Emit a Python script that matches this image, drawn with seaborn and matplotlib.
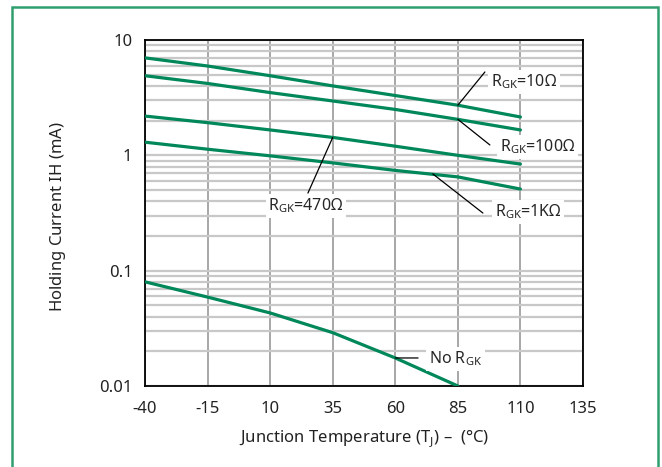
import numpy as np
import pandas as pd
import seaborn as sns
import matplotlib.pyplot as plt
from matplotlib.patches import Rectangle
from matplotlib.ticker import FixedLocator, LogLocator, NullFormatter

# values (temperature in degC, holding current in mA)
temp = [-40, -15, 10, 35, 60, 85, 110]
rgk_10 = [7.0, 5.95, 4.9, 4.0, 3.3, 2.72, 2.15]
rgk_100 = [4.9, 4.2, 3.5, 2.96, 2.5, 2.05, 1.66]
rgk_470 = [2.19, 1.92, 1.66, 1.43, 1.2, 1.0, 0.84]
rgk_1k = [1.30, 1.13, 0.99, 0.86, 0.74, 0.65, 0.51]
temp_no = [-40, -15, 10, 35, 60, 85]
no_rgk = [0.08, 0.059, 0.043, 0.029, 0.0175, 0.01]

xticks = [-40, -15, 10, 35, 60, 85, 110, 135]
yticks = [0.01, 0.1, 1, 10]
ytick_labels = ["0.01", "0.1", "1", "10"]

df = pd.concat([
    pd.DataFrame({"T": temp, "I": rgk_10, "s": "10"}),
    pd.DataFrame({"T": temp, "I": rgk_100, "s": "100"}),
    pd.DataFrame({"T": temp, "I": rgk_470, "s": "470"}),
    pd.DataFrame({"T": temp, "I": rgk_1k, "s": "1k"}),
    pd.DataFrame({"T": temp_no, "I": no_rgk, "s": "none"}),
])

sns.set_style("white")
plt.rcParams['font.family'] = ['Noto Sans', 'DejaVu Sans']
plt.rcParams['mathtext.fontset'] = 'custom'
plt.rcParams['mathtext.rm'] = 'Noto Sans'
plt.rcParams['mathtext.bf'] = 'Noto Sans:bold'

green = "#00875a"
fig = plt.figure(figsize=(6.62, 4.67), dpi=100)
ax = fig.add_axes([145 / 662, 1 - 386 / 467, 438 / 662, 346 / 467])

sns.lineplot(data=df, x="T", y="I", hue="s", palette=[green] * 5,
             linewidth=2.3, legend=False, ax=ax, zorder=3)

ax.set_yscale("log")
ax.set_xlim(-40, 135)
ax.set_ylim(0.01, 10)
ax.set_xticks(xticks)
ax.set_xticklabels([str(t) for t in xticks])
ax.yaxis.set_major_locator(FixedLocator(yticks))
ax.set_yticklabels(ytick_labels)
ax.yaxis.set_minor_locator(LogLocator(base=10, subs=np.arange(2, 10)))
ax.yaxis.set_minor_formatter(NullFormatter())

ax.grid(axis="x", color="#a0a0a0", linewidth=1.3, zorder=0)
ax.grid(axis="y", which="both", color="#c8c8c8", linewidth=1.6, zorder=0)
ax.set_axisbelow(True)
for sp in ax.spines.values():
    sp.set_color("black")
    sp.set_linewidth(1.3)
ax.tick_params(axis="both", which="both", length=0, labelsize=12, colors="#222222")
ax.tick_params(axis="x", pad=11)
ax.tick_params(axis="y", pad=9)

ax.set_xlabel("Junction Temperature (T$_{\\rm J}$) \u2013  (\u00b0C)", fontsize=12, color="#222222")
ax.set_ylabel("Holding Current $\\mathbf{I}$H (mA)", fontsize=12, color="#222222")
ax.xaxis.set_label_coords(0.5, -0.12)
ax.yaxis.set_label_coords(-0.175, 0.49)

box = dict(facecolor="white", edgecolor="none", pad=2)
lead = dict(arrowstyle="-", color="black", lw=0.9, shrinkA=0, shrinkB=0)

ax.annotate("", xy=(85, 2.72), xytext=(95.8, 5.28), arrowprops=lead)
ax.text(98.2, 4.35, "R$_{\\rm GK}$=10\u03a9", ha="left", va="center", fontsize=11.5, bbox=box, zorder=4)

ax.annotate("", xy=(85, 2.05), xytext=(97.8, 1.23), arrowprops=lead)
ax.text(101.8, 1.18, "R$_{\\rm GK}$=100\u03a9", ha="left", va="center", fontsize=11.5, bbox=box, zorder=4)

ax.annotate("", xy=(35, 1.43), xytext=(25.1, 0.471), arrowprops=lead)
ax.text(24.3, 0.363, "R$_{\\rm GK}$=470\u03a9", ha="center", va="center", fontsize=11.5, bbox=box, zorder=4)

ax.annotate("", xy=(75, 0.69), xytext=(95.0, 0.316), arrowprops=lead)
ax.text(99.8, 0.322, "R$_{\\rm GK}$=1K\u03a9", ha="left", va="center", fontsize=11.5, bbox=box, zorder=4)

ax.annotate("", xy=(60, 0.0175), xytext=(69.1, 0.0175), arrowprops=lead)
ax.text(73.5, 0.0172, "No R$_{\\rm GK}$", ha="left", va="center", fontsize=11.5, bbox=box, zorder=4)

# green frame around the figure (open at the bottom)
fig.patches.append(Rectangle((11.5 / 662, -0.05), 646 / 662, 1.05 - 7.5 / 467,
                             transform=fig.transFigure, fill=False,
                             edgecolor="#2e9e6e", linewidth=1.8, clip_on=False))

plt.savefig("out.png", dpi=100)
